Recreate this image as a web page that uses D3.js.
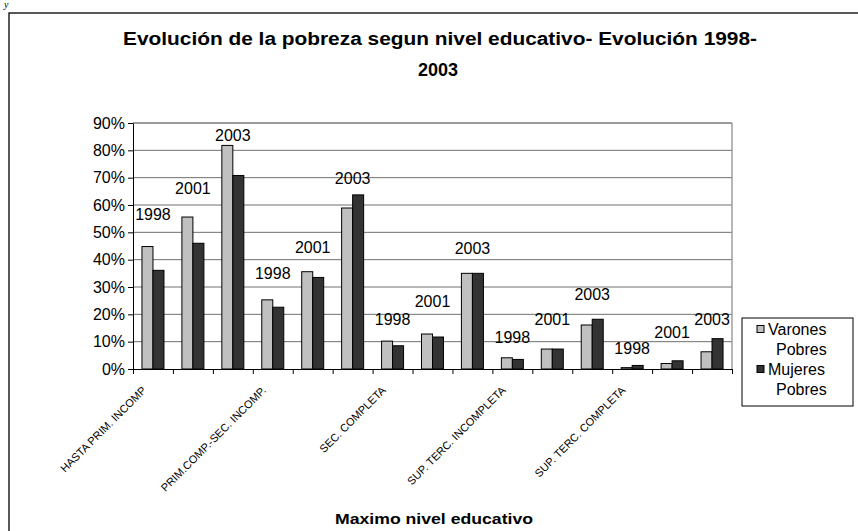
<!DOCTYPE html>
<html><head><meta charset="utf-8">
<script src="https://cdn.jsdelivr.net/npm/d3@7"></script>
<style>body{margin:0;background:#fff}svg{display:block}</style>
</head><body><svg id="c" width="858" height="531"></svg>
<script>
// ---- data ----
const levels = ["HASTA PRIM. INCOMP", "PRIM.COMP.-SEC. INCOMP.", "SEC. COMPLETA", "SUP. TERC. INCOMPLETA", "SUP. TERC. COMPLETA"];
const years = ["1998", "2001", "2003"];
const seriesNames = ["Varones Pobres", "Mujeres Pobres"];
const varones = [44.8, 55.6, 81.8, 25.3, 35.6, 58.9, 10.2, 12.8, 35.0, 4.1, 7.3, 16.1, 0.5, 2.0, 6.3];
const mujeres = [36.1, 46.0, 70.8, 22.6, 33.5, 63.7, 8.5, 11.7, 35.0, 3.5, 7.3, 18.2, 1.3, 3.0, 11.1];
// height (in % units) at which each year annotation sits
const yearLabelLevel = [56.7, 66.2, 85.6, 35.1, 44.6, 69.9, 18.3, 24.9, 44.3, 11.7, 18.3, 27.4, 7.7, 13.5, 18.3];
const yTicks = [0, 10, 20, 30, 40, 50, 60, 70, 80, 90];
const title1 = "Evolución de la pobreza segun nivel educativo- Evolución 1998-";
const title2 = "2003";
const xTitle = "Maximo nivel educativo";

// ---- build rows ----
const rows = [];
levels.forEach((lv, i) => years.forEach((yr, j) => {
  const k = i * years.length + j;
  rows.push({ id: k, level: lv, year: yr, v: varones[k], m: mujeres[k], lab: yearLabelLevel[k] });
}));

const FONT = "'Liberation Sans', Arial, sans-serif";
const colors = ["#c0c0c0", "#333333"];
const svg = d3.select("#c").style("font-family", FONT);

// outer frame
svg.append("rect").attr("x", 9).attr("y", 13).attr("width", 870).attr("height", 540)
  .attr("fill", "none").attr("stroke", "#000").attr("stroke-width", 1.3);
svg.append("text").attr("x", 4).attr("y", 8).attr("font-family", "serif").attr("font-style", "italic")
  .attr("font-size", 10).text("y");

const L = 133, R = 732, T = 123, B = 369;
const x = d3.scaleBand().domain(rows.map(d => d.id)).range([L, R]).padding(0);
const bw = x.bandwidth();
const groupW = 22;
const x1 = d3.scaleBand().domain([0, 1]).range([(bw - groupW) / 2, (bw + groupW) / 2]);
const y = d3.scaleLinear().domain([0, 90]).range([B, T]);
const xb = d3.scaleLinear().domain([0, rows.length]).range([L, R]);

// gridlines
svg.append("g").selectAll("line").data(yTicks.filter(t => t > 0)).join("line")
  .attr("x1", L).attr("x2", R).attr("y1", d => y(d)).attr("y2", d => y(d))
  .attr("stroke", "#707070").attr("stroke-width", 1);
// plot border top/right
svg.append("line").attr("x1", R).attr("x2", R).attr("y1", T).attr("y2", B)
  .attr("stroke", "#909090").attr("stroke-width", 1.3);
svg.append("line").attr("x1", L).attr("x2", R).attr("y1", T).attr("y2", T)
  .attr("stroke", "#909090").attr("stroke-width", 1.3);

// bars
const g = svg.append("g").selectAll("g").data(rows).join("g")
  .attr("transform", d => `translate(${x(d.id)},0)`);
g.selectAll("rect").data(d => [d.v, d.m]).join("rect")
  .attr("x", (d, i) => x1(i)).attr("width", x1.bandwidth())
  .attr("y", d => y(d)).attr("height", d => y(0) - y(d))
  .attr("fill", (d, i) => colors[i]).attr("stroke", "#000").attr("stroke-width", 1);

// year annotations
svg.append("g").selectAll("text").data(rows).join("text")
  .attr("x", d => x(d.id) + bw / 2).attr("y", d => y(d.lab)).attr("dy", "0.36em")
  .attr("text-anchor", "middle").attr("font-size", 16).text(d => d.year);

// y axis
const ya = svg.append("g").attr("transform", `translate(${L},0)`)
  .call(d3.axisLeft(y).tickValues(yTicks).tickFormat(d => d + "%").tickSize(5).tickSizeOuter(0));
ya.select(".domain").attr("stroke", "#000");
ya.selectAll("text").attr("font-size", 16).attr("font-family", FONT).attr("fill", "#000");

// x axis
const xa = svg.append("g").attr("transform", `translate(0,${B})`)
  .call(d3.axisBottom(xb).tickValues(d3.range(rows.length + 1)).tickFormat("").tickSize(5).tickSizeOuter(0));
xa.select(".domain").attr("stroke", "#000");

// category labels (one per education level, at first year of each)
svg.append("g").selectAll("text").data(rows.filter(d => d.year === years[0])).join("text")
  .attr("transform", d => `translate(${x(d.id) + bw / 2 - 6},${B + 22}) rotate(-45)`)
  .attr("text-anchor", "end").attr("font-size", 11).text(d => d.level);

// titles
svg.append("text").attr("x", 440).attr("y", 45).attr("text-anchor", "middle")
  .attr("font-weight", "bold").attr("font-size", 18)
  .attr("textLength", 634).attr("lengthAdjust", "spacingAndGlyphs").text(title1);
svg.append("text").attr("x", 438).attr("y", 76).attr("text-anchor", "middle")
  .attr("font-weight", "bold").attr("font-size", 18).text(title2);
svg.append("text").attr("x", 434).attr("y", 524).attr("text-anchor", "middle")
  .attr("font-weight", "bold").attr("font-size", 15)
  .attr("textLength", 198).attr("lengthAdjust", "spacingAndGlyphs").text(xTitle);

// legend
const lg = svg.append("g");
lg.append("rect").attr("x", 742).attr("y", 318).attr("width", 111).attr("height", 88)
  .attr("fill", "#fff").attr("stroke", "#000").attr("stroke-width", 1);
seriesNames.forEach((nm, i) => {
  const [w1, w2] = nm.split(" ");
  const cy = 329 + i * 40;
  lg.append("rect").attr("x", 757).attr("y", cy - 3.5).attr("width", 7).attr("height", 7)
    .attr("fill", colors[i]).attr("stroke", "#000").attr("stroke-width", 1);
  lg.append("text").attr("x", 768).attr("y", cy).attr("dy", "0.36em").attr("font-size", 16).text(w1);
  lg.append("text").attr("x", 776).attr("y", cy + 20).attr("dy", "0.36em").attr("font-size", 16).text(w2);
});
</script></body></html>
